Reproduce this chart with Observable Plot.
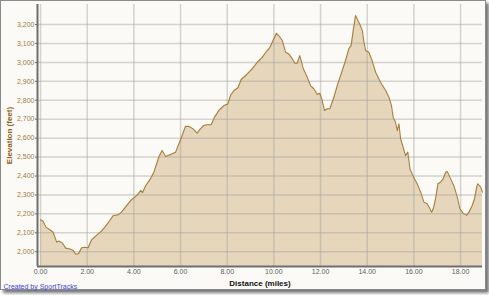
<!DOCTYPE html>
<html>
<head>
<meta charset="utf-8">
<script src="https://cdn.jsdelivr.net/npm/d3@7"></script>
<script src="https://cdn.jsdelivr.net/npm/@observablehq/plot@0.6"></script>
<style>
  html, body { margin: 0; padding: 0; background: #ffffff; }
  #wrap { position: relative; width: 489px; height: 295px; overflow: hidden; }
  #frame { position: absolute; left: 0; top: 0; width: 484px; height: 288px;
           border: 1px solid #8a8a8a; background: #fbfaf6;
           box-shadow: 3px 3px 3px #777777; }
  #chart { position: absolute; left: 0; top: 0; }
  #chart svg { display: block; }
</style>
</head>
<body>
<div id="wrap"><div id="frame"></div><div id="chart"></div></div>
<script>
// Distance along route (miles)
const distance = [
  0.00, 0.11, 0.23, 0.40, 0.54, 0.69, 0.80, 0.94, 1.08, 1.26, 1.40, 1.51, 1.63, 1.76, 1.90,
  2.04, 2.19, 2.40, 2.61, 2.76, 2.97, 3.11, 3.33, 3.47, 3.69, 3.90, 4.04, 4.19, 4.30, 4.37,
  4.51, 4.71, 4.86, 4.93, 5.07, 5.21, 5.36, 5.57, 5.79, 5.93, 6.07, 6.21, 6.36, 6.54, 6.71,
  6.83, 7.00, 7.14, 7.31, 7.46, 7.64, 7.86, 8.03, 8.14, 8.29, 8.46, 8.60, 8.83, 9.07, 9.29,
  9.50, 9.64, 9.83, 10.00, 10.11, 10.21, 10.36, 10.50, 10.64, 10.79, 10.90, 11.00, 11.11, 11.17, 11.26,
  11.40, 11.57, 11.71, 11.86, 11.97, 12.07, 12.17, 12.29, 12.40, 12.57, 12.74, 12.93, 13.07, 13.21, 13.31,
  13.40, 13.50, 13.57, 13.69, 13.79, 13.86, 13.93, 14.07, 14.21, 14.36, 14.57, 14.79, 14.93, 15.04, 15.11,
  15.21, 15.29, 15.36, 15.43, 15.54, 15.64, 15.74, 15.83, 15.97, 16.14, 16.29, 16.43, 16.57, 16.69, 16.76,
  16.83, 16.93, 17.03, 17.14, 17.26, 17.36, 17.43, 17.54, 17.71, 17.86, 17.97, 18.11, 18.26, 18.36, 18.50,
  18.60, 18.69, 18.74, 18.86, 18.94
];
// Elevation (feet)
const elevation = [
  2169, 2161, 2130, 2116, 2103, 2051, 2056, 2045, 2019, 2014, 2007, 1987, 1989, 2021, 2024,
  2021, 2063, 2086, 2109, 2130, 2165, 2190, 2195, 2209, 2244, 2275, 2288, 2306, 2324, 2312,
  2350, 2385, 2420, 2447, 2500, 2535, 2503, 2514, 2526, 2570, 2614, 2662, 2662, 2649, 2626,
  2646, 2667, 2671, 2671, 2711, 2746, 2772, 2781, 2825, 2852, 2866, 2910, 2935, 2966, 3001,
  3027, 3051, 3080, 3125, 3154, 3142, 3116, 3054, 3045, 3019, 2996, 2996, 3036, 3010, 2966,
  2931, 2878, 2861, 2831, 2837, 2799, 2746, 2755, 2755, 2816, 2887, 2957, 3010, 3072, 3089,
  3168, 3248, 3230, 3199, 3168, 3107, 3063, 3054, 3010, 2948, 2895, 2852, 2816, 2772, 2711,
  2684, 2640, 2676, 2597, 2552, 2508, 2526, 2438, 2398, 2359, 2315, 2262, 2253, 2227, 2209,
  2227, 2280, 2359, 2367, 2385, 2420, 2424, 2394, 2350, 2288, 2227, 2204, 2192, 2209, 2244,
  2280, 2341, 2359, 2341, 2315
];
const xTicks = [0, 2, 4, 6, 8, 10, 12, 14, 16, 18];
const yTicks = [2000, 2100, 2200, 2300, 2400, 2500, 2600, 2700, 2800, 2900, 3000, 3100, 3200];
const xTitle = "Distance (miles)";
const yTitle = "Elevation (feet)";
const credit = "Created by SportTracks";

const data = distance.map((d, i) => ({distance: d, elevation: elevation[i]}));
const yMin = 1922;

const chart = Plot.plot({
  width: 489,
  height: 295,
  marginLeft: 37,
  marginRight: 7,
  marginTop: 4,
  marginBottom: 29,
  style: {fontFamily: "'Liberation Sans', Arial, sans-serif", fontSize: "7px", background: "transparent", overflow: "visible"},
  x: {domain: [-0.13, 18.94], label: null},
  y: {domain: [yMin, 3306], label: null},
  marks: [
    Plot.areaY(data, {x: "distance", y1: yMin, y2: "elevation", fill: "#e5d6bc"}),
    Plot.ruleX(xTicks, {stroke: "#a4a49c", strokeOpacity: 0.45, strokeWidth: 1.5}),
    Plot.ruleY(yTicks, {stroke: "#a4a49c", strokeOpacity: 0.45, strokeWidth: 1.5}),
    Plot.lineY(data, {x: "distance", y: "elevation", stroke: "#a97f3e", strokeWidth: 1.1}),
    Plot.axisX({ticks: xTicks, tickFormat: d3.format(".2f"), tickSize: 0, tickPadding: 3, fill: "#606060", label: null}),
    Plot.axisY({ticks: yTicks, tickFormat: d3.format(","), tickSize: 2, tickPadding: 1, fill: "#a07a3e", stroke: "#707070", label: null}),
    Plot.ruleX([-0.13], {stroke: "#6e6e6e", strokeWidth: 2}),
    Plot.ruleY([yMin], {stroke: "#6e6e6e", strokeWidth: 2}),
    Plot.text([yTitle], {frameAnchor: "left", dx: -28, rotate: -90, fontWeight: "bold", fontSize: 8, fill: "#8d5f22", textAnchor: "middle", lineAnchor: "middle"}),
    Plot.text([xTitle], {frameAnchor: "bottom", dy: 16.5, fontWeight: "bold", fontSize: 8, fill: "#111111", lineAnchor: "middle"}),
    Plot.text([credit], {frameAnchor: "bottom-left", dx: -34, dy: 20, textAnchor: "start", fontSize: 7, fill: "#3c3cf0", lineAnchor: "middle"})
  ]
});
document.getElementById("chart").appendChild(chart);
</script>
</body>
</html>
